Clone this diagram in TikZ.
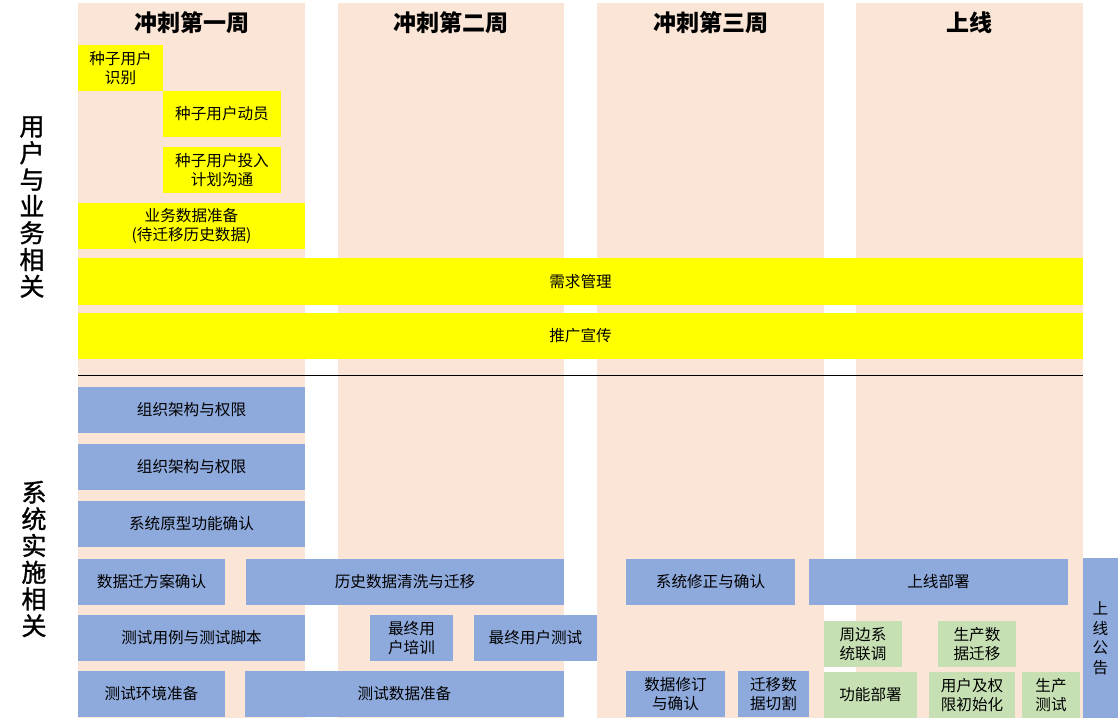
\documentclass[tikz,border=0pt]{standalone}
\usepackage{fontspec}
\setmainfont{Noto Sans CJK SC}
\newfontfamily\sidefont[FakeBold=1.2]{Noto Sans CJK SC}
\definecolor{peach}{HTML}{FBE5D6}
\definecolor{ylw}{HTML}{FFFF00}
\definecolor{blu}{HTML}{8EA9DB}
\definecolor{grn}{HTML}{C6E0B4}
\tikzset{
  cell/.style={inner sep=0pt, outer sep=0pt, align=center, text=black,
    font=\fontsize{15.6}{19.5}\selectfont},
  ybox/.style={cell, fill=ylw},
  bbox/.style={cell, fill=blu},
  gbox/.style={cell, fill=grn},
  head/.style={font=\fontsize{23}{26}\selectfont\bfseries, inner sep=0pt},
  side/.style={font=\sidefont\fontsize{25}{26.7}\selectfont, align=center, inner sep=0pt},
  col/.style={fill=peach, draw=none}
}
\newcommand\bx[7]{\node[#1, minimum width={(#4-#2)*1pt}, minimum height={(#5-#3)*1pt}] (#7) at ({(#2+#4)/2},{(#3+#5)/2}) {#6};}
\begin{document}
\begin{tikzpicture}[x=1pt,y=-1pt]
\useasboundingbox (0,0) rectangle (1118,724);
\fill[white] (0,0) rectangle (1118,724);
% columns
\fill[col] (78,3) rectangle (305,718);
\fill[col] (338,3) rectangle (564,718);
\fill[col] (597,3) rectangle (824,718);
\fill[col] (856,3) rectangle (1083,718);
% headers
\node[head] (h1) at (191.5,23) {冲刺第一周};
\node[head] (h2) at (451,23) {冲刺第二周};
\node[head] (h3) at (710.5,23) {冲刺第三周};
\node[head] (h4) at (969.5,23) {上线};
% side labels
\node[side] (s1) at (32,207) {用\\户\\与\\业\\务\\相\\关};
\node[side] (s2) at (34,559) {系\\统\\实\\施\\相\\关};
% yellow
\bx{ybox}{78}{45}{163}{91}{种子用户\\识别}{y1}
\bx{ybox}{163}{91}{281}{137}{种子用户动员}{y2}
\bx{ybox}{163}{147}{281}{193}{种子用户投入\\计划沟通}{y3}
\bx{ybox}{78}{203}{305}{249}{业务数据准备\\(待迁移历史数据)}{y4}
\bx{ybox}{78}{258}{1083}{305}{需求管理}{y5}
\bx{ybox}{78}{313}{1083}{359}{推广宣传}{y6}
% divider
\coordinate (dl) at (78,375.5);
\coordinate (dr) at (1083,375.5);
\draw[black, line width=0.8pt] (dl) -- (dr);
% blue
\bx{bbox}{78}{387}{305}{433}{组织架构与权限}{b1}
\bx{bbox}{78}{444}{305}{490}{组织架构与权限}{b2}
\bx{bbox}{78}{501}{305}{547}{系统原型功能确认}{b3}
\bx{bbox}{78}{559}{225}{605}{数据迁方案确认}{b4}
\bx{bbox}{246}{559}{564}{605}{历史数据清洗与迁移}{b5}
\bx{bbox}{626}{559}{795}{605}{系统修正与确认}{b6}
\bx{bbox}{809}{559}{1068}{605}{上线部署}{b7}
\bx{bbox}{1083}{558}{1118}{718}{上\\线\\公\\告}{b8}
\bx{bbox}{78}{615}{305}{661}{测试用例与测试脚本}{b9}
\bx{bbox}{370}{615}{453}{661}{最终用\\户培训}{b10}
\bx{bbox}{474}{615}{597}{661}{最终用户测试}{b11}
\bx{bbox}{78}{671}{225}{717}{测试环境准备}{b12}
\bx{bbox}{245}{671}{564}{717}{测试数据准备}{b13}
\bx{bbox}{626}{671}{725}{717}{数据修订\\与确认}{b14}
\bx{bbox}{738}{671}{809}{717}{迁移数\\据切割}{b15}
% green
\bx{gbox}{824}{621}{902}{667}{周边系\\统联调}{g1}
\bx{gbox}{938}{621}{1016}{667}{生产数\\据迁移}{g2}
\bx{gbox}{824}{672}{917}{718}{功能部署}{g3}
\bx{gbox}{929}{672}{1015}{718}{用户及权\\限初始化}{g4}
\bx{gbox}{1022}{672}{1080}{718}{生产\\测试}{g5}
\end{tikzpicture}
\end{document}
